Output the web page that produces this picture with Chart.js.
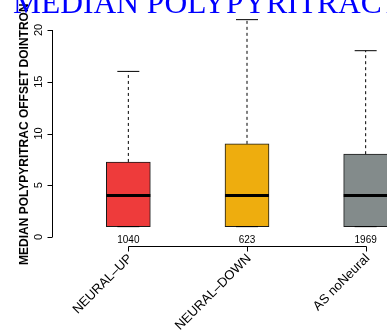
<!DOCTYPE html>
<html>
<head>
<meta charset="utf-8">
<script src="https://cdn.jsdelivr.net/npm/chart.js@4/dist/chart.umd.min.js"></script>
<style>
  html, body { margin: 0; padding: 0; background: #fff; overflow: hidden; }
  #wrap { position: absolute; left: 0; top: 0; width: 430px; height: 333px; }
</style>
</head>
<body>
<div id="wrap"><canvas id="boxChart" width="430" height="333"></canvas></div>
<script>
// values
const categories = ['NEURAL\u2013UP', 'NEURAL\u2013DOWN', 'AS noNeural'];
const counts = [1040, 623, 1969];
const whiskerLow = [1, 1, 1];
const lowerQuartile = [1, 1, 1];
const medians = [4, 4, 4];
const upperQuartile = [7.25, 9, 8];
const whiskerHigh = [16, 21, 18];
const yTicks = [0, 5, 10, 15, 20];

const boxColors = ['#EE3B3B', '#EEAD0E', '#838B8B'];
const titleText = 'MEDIAN POLYPYRITRACT OFFSET DOINTRON';
const yTitle = 'MEDIAN POLYPYRITRAC OFFSET DOINTRON';

const boxExtras = {
  id: 'boxExtras',
  afterDatasetsDraw(chart) {
    const ctx = chart.ctx;
    const xs = chart.scales.x;
    const ys = chart.scales.y;
    ctx.save();
    ctx.strokeStyle = '#000';
    categories.forEach((cat, i) => {
      const x = xs.getPixelForValue(i);
      // whiskers
      ctx.lineWidth = 1;
      ctx.setLineDash([3, 3]);
      ctx.beginPath();
      ctx.moveTo(x, ys.getPixelForValue(upperQuartile[i]));
      ctx.lineTo(x, ys.getPixelForValue(whiskerHigh[i]));
      ctx.moveTo(x, ys.getPixelForValue(lowerQuartile[i]));
      ctx.lineTo(x, ys.getPixelForValue(whiskerLow[i]));
      ctx.stroke();
      ctx.setLineDash([]);
      ctx.beginPath();
      ctx.moveTo(x - 11, ys.getPixelForValue(whiskerHigh[i]));
      ctx.lineTo(x + 11, ys.getPixelForValue(whiskerHigh[i]));
      ctx.moveTo(x - 11, ys.getPixelForValue(whiskerLow[i]));
      ctx.lineTo(x + 11, ys.getPixelForValue(whiskerLow[i]));
      ctx.stroke();
      // median
      ctx.lineWidth = 3;
      ctx.beginPath();
      ctx.moveTo(x - 22, ys.getPixelForValue(medians[i]));
      ctx.lineTo(x + 22, ys.getPixelForValue(medians[i]));
      ctx.stroke();
      // counts
      ctx.fillStyle = '#000';
      ctx.font = '10px "Liberation Sans", Arial, sans-serif';
      ctx.textAlign = 'center';
      ctx.textBaseline = 'middle';
      ctx.fillText(String(counts[i]), x, ys.getPixelForValue(0) + 3);
    });
    ctx.restore();
  },
  afterDraw(chart) {
    const ctx = chart.ctx;
    const xs = chart.scales.x;
    const ys = chart.scales.y;
    ctx.save();
    ctx.strokeStyle = '#000';
    ctx.fillStyle = '#000';
    ctx.lineWidth = 1;

    // y axis
    const ax = 52.5;
    ctx.beginPath();
    ctx.moveTo(ax, ys.getPixelForValue(yTicks[0]));
    ctx.lineTo(ax, ys.getPixelForValue(yTicks[yTicks.length - 1]));
    yTicks.forEach(t => {
      const y = Math.round(ys.getPixelForValue(t)) + 0.5;
      ctx.moveTo(ax, y);
      ctx.lineTo(ax - 5, y);
    });
    ctx.stroke();
    ctx.font = '11px "Liberation Sans", Arial, sans-serif';
    ctx.textAlign = 'center';
    ctx.textBaseline = 'middle';
    yTicks.forEach(t => {
      ctx.save();
      ctx.translate(38.5, ys.getPixelForValue(t));
      ctx.rotate(-Math.PI / 2);
      ctx.fillText(String(t), 0, 0);
      ctx.restore();
    });

    // y title
    ctx.save();
    ctx.font = 'bold 12px "Liberation Sans", Arial, sans-serif';
    ctx.textAlign = 'left';
    ctx.translate(25, 265);
    ctx.rotate(-Math.PI / 2);
    ctx.fillText(yTitle, 0, 0);
    ctx.restore();

    // x axis
    const ay = 246.5;
    const x0 = xs.getPixelForValue(0);
    const x2 = xs.getPixelForValue(categories.length - 1);
    ctx.beginPath();
    ctx.moveTo(Math.round(x0) + 0.5, ay);
    ctx.lineTo(Math.round(x2) + 0.5, ay);
    categories.forEach((c, i) => {
      const x = Math.round(xs.getPixelForValue(i)) + 0.5;
      ctx.moveTo(x, ay);
      ctx.lineTo(x, ay + 5);
    });
    ctx.stroke();
    ctx.font = '13px "Liberation Sans", Arial, sans-serif';
    ctx.textAlign = 'right';
    ctx.textBaseline = 'middle';
    categories.forEach((c, i) => {
      ctx.save();
      ctx.translate(xs.getPixelForValue(i) + 2, 256.5);
      ctx.rotate(-Math.PI / 4);
      ctx.fillText(c, 0, 0);
      ctx.restore();
    });

    // title (cropped at the top)
    ctx.font = '31.5px "Liberation Serif", "Times New Roman", serif';
    ctx.fillStyle = '#0000FF';
    ctx.textAlign = 'left';
    ctx.textBaseline = 'alphabetic';
    ctx.fillText(titleText, 13, 13);
    ctx.restore();
  }
};

new Chart(document.getElementById('boxChart'), {
  type: 'bar',
  data: {
    labels: categories,
    datasets: [{
      data: categories.map((c, i) => [lowerQuartile[i], upperQuartile[i]]),
      backgroundColor: boxColors,
      borderColor: '#1a1a1a',
      borderWidth: 1,
      borderSkipped: false,
      barThickness: 44
    }]
  },
  options: {
    responsive: false,
    animation: false,
    devicePixelRatio: 1,
    layout: { padding: { left: 69, right: 5, top: 30, bottom: 96 } },
    scales: {
      x: { type: 'category', display: false, offset: true },
      y: { display: false, min: 0, max: 20 }
    },
    plugins: {
      legend: { display: false },
      tooltip: { enabled: false }
    }
  },
  plugins: [boxExtras]
});
</script>
</body>
</html>
